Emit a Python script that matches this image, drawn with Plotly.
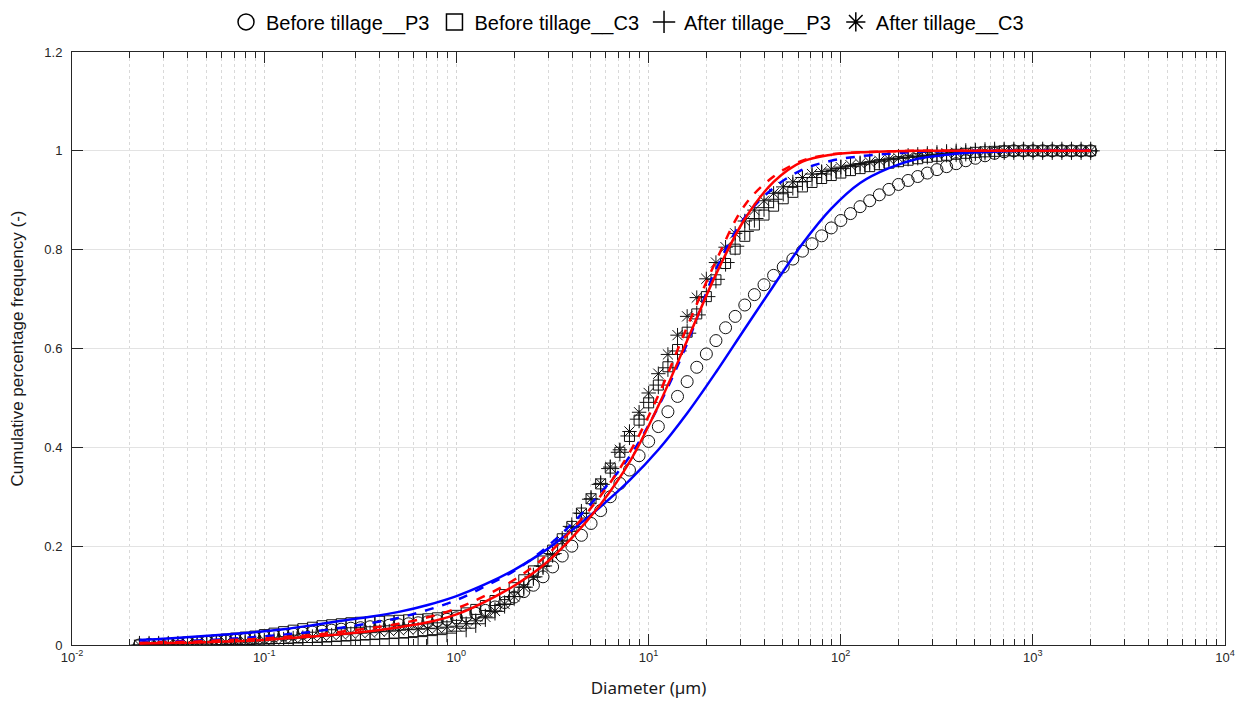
import plotly.graph_objects as go

# Particle diameters (µm) of the measured size classes
diameter = [
    0.02244, 0.02518, 0.02825, 0.03170, 0.03557, 0.03991, 0.04477, 0.05024, 0.05637, 0.06325,
    0.07096, 0.07962, 0.08934, 0.1002, 0.1125, 0.1262, 0.1416, 0.1589, 0.1783, 0.2000,
    0.2244, 0.2518, 0.2825, 0.3170, 0.3557, 0.3991, 0.4477, 0.5024, 0.5637, 0.6325,
    0.7096, 0.7962, 0.8934, 1.002, 1.125, 1.262, 1.416, 1.589, 1.783, 2.000,
    2.244, 2.518, 2.825, 3.170, 3.557, 3.991, 4.477, 5.024, 5.637, 6.325,
    7.096, 7.962, 8.934, 10.02, 11.25, 12.62, 14.16, 15.89, 17.83, 20.00,
    22.44, 25.18, 28.25, 31.70, 35.57, 39.91, 44.77, 50.24, 56.37, 63.25,
    70.96, 79.62, 89.34, 100.2, 112.5, 126.2, 141.6, 158.9, 178.3, 200.0,
    224.4, 251.8, 282.5, 317.0, 355.7, 399.1, 447.7, 502.4, 563.7, 632.5,
    709.6, 796.2, 893.4, 1002, 1125, 1262, 1416, 1589, 1783, 2000,
]

before_P3 = [
    0.000, 0.001, 0.001, 0.002, 0.003, 0.004, 0.005, 0.006, 0.007, 0.008,
    0.010, 0.012, 0.014, 0.016, 0.018, 0.020, 0.022, 0.024, 0.026, 0.028,
    0.030, 0.032, 0.034, 0.035, 0.037, 0.038, 0.040, 0.041, 0.043, 0.045,
    0.047, 0.049, 0.052, 0.055, 0.059, 0.064, 0.070, 0.077, 0.086, 0.097,
    0.108, 0.121, 0.138, 0.158, 0.180, 0.200, 0.222, 0.246, 0.272, 0.300,
    0.327, 0.354, 0.383, 0.412, 0.442, 0.472, 0.503, 0.533, 0.562, 0.589,
    0.616, 0.642, 0.665, 0.688, 0.709, 0.729, 0.748, 0.765, 0.781, 0.797,
    0.812, 0.828, 0.844, 0.859, 0.873, 0.887, 0.899, 0.911, 0.922, 0.932,
    0.940, 0.948, 0.955, 0.962, 0.968, 0.974, 0.980, 0.985, 0.990, 0.995,
    0.998, 1.000, 1.000, 1.000, 1.000, 1.000, 1.000, 1.000, 1.000, 1.000,
]

before_C3 = [
    0.000, 0.001, 0.002, 0.003, 0.004, 0.006, 0.007, 0.009, 0.010, 0.012,
    0.014, 0.016, 0.018, 0.021, 0.024, 0.027, 0.030, 0.033, 0.036, 0.039,
    0.041, 0.043, 0.045, 0.046, 0.047, 0.048, 0.049, 0.050, 0.051, 0.052,
    0.053, 0.055, 0.057, 0.060, 0.065, 0.072, 0.080, 0.090, 0.102, 0.116,
    0.132, 0.150, 0.170, 0.192, 0.215, 0.240, 0.267, 0.296, 0.326, 0.358,
    0.390, 0.422, 0.455, 0.490, 0.526, 0.563, 0.598, 0.633, 0.670, 0.705,
    0.739, 0.772, 0.801, 0.827, 0.850, 0.870, 0.888, 0.903, 0.916, 0.927,
    0.936, 0.944, 0.950, 0.955, 0.960, 0.964, 0.968, 0.972, 0.975, 0.978,
    0.981, 0.984, 0.987, 0.989, 0.991, 0.993, 0.995, 0.997, 0.998, 0.999,
    1.000, 1.000, 1.000, 1.000, 1.000, 1.000, 1.000, 1.000, 1.000, 1.000,
]

after_P3 = [
    0.000, 0.000, 0.000, 0.000, 0.000, 0.000, 0.000, 0.000, 0.000, 0.001,
    0.001, 0.001, 0.002, 0.002, 0.003, 0.003, 0.004, 0.005, 0.005, 0.006,
    0.007, 0.008, 0.009, 0.010, 0.011, 0.012, 0.013, 0.014, 0.015, 0.017,
    0.019, 0.021, 0.024, 0.028, 0.034, 0.043, 0.055, 0.068, 0.082, 0.098,
    0.117, 0.138, 0.160, 0.185, 0.212, 0.240, 0.267, 0.295, 0.325, 0.357,
    0.390, 0.423, 0.457, 0.491, 0.526, 0.561, 0.595, 0.631, 0.668, 0.705,
    0.740, 0.774, 0.807, 0.837, 0.863, 0.885, 0.902, 0.916, 0.928, 0.938,
    0.946, 0.953, 0.959, 0.964, 0.968, 0.972, 0.976, 0.979, 0.982, 0.985,
    0.987, 0.989, 0.991, 0.993, 0.995, 0.996, 0.997, 0.998, 0.999, 1.000,
    1.000, 1.000, 1.000, 1.000, 1.000, 1.000, 1.000, 1.000, 1.000, 1.000,
]

after_C3 = [
    0.000, 0.001, 0.001, 0.002, 0.002, 0.003, 0.004, 0.004, 0.005, 0.006,
    0.007, 0.008, 0.009, 0.010, 0.011, 0.012, 0.014, 0.015, 0.017, 0.018,
    0.020, 0.021, 0.023, 0.024, 0.025, 0.027, 0.028, 0.030, 0.031, 0.032,
    0.033, 0.034, 0.036, 0.038, 0.043, 0.049, 0.057, 0.069, 0.083, 0.098,
    0.117, 0.137, 0.159, 0.183, 0.210, 0.238, 0.266, 0.296, 0.327, 0.360,
    0.395, 0.432, 0.471, 0.510, 0.549, 0.588, 0.627, 0.665, 0.703, 0.741,
    0.774, 0.805, 0.833, 0.858, 0.880, 0.899, 0.914, 0.927, 0.937, 0.946,
    0.953, 0.958, 0.963, 0.967, 0.971, 0.974, 0.977, 0.980, 0.983, 0.985,
    0.987, 0.989, 0.991, 0.993, 0.995, 0.996, 0.997, 0.998, 0.999, 1.000,
    1.000, 1.000, 1.000, 1.000, 1.000, 1.000, 1.000, 1.000, 1.000, 1.000,
]

fit_d = [
    0.02244, 0.03170, 0.04477, 0.06325, 0.08934, 0.1262, 0.1783, 0.2518, 0.3557, 0.5024,
    0.7096, 1.002, 1.416, 2.000, 2.825, 3.991, 5.637, 7.962, 11.25, 15.89,
    22.44, 31.70, 44.77, 63.25, 89.34, 126.2, 178.3, 251.8, 355.7, 502.4,
    709.6, 1002, 1416, 2000,
]
fit_blue_solid = [
    0.010, 0.013, 0.017, 0.021, 0.026, 0.032, 0.040, 0.049, 0.057, 0.067,
    0.081, 0.099, 0.123, 0.152, 0.188, 0.232, 0.280, 0.333, 0.395, 0.469,
    0.552, 0.640, 0.727, 0.812, 0.883, 0.935, 0.965, 0.984, 0.992, 0.997,
    0.999, 1.000, 1.000, 1.000,
]
fit_blue_dash = [
    0.005, 0.007, 0.009, 0.012, 0.016, 0.021, 0.027, 0.035, 0.044, 0.055,
    0.071, 0.091, 0.119, 0.150, 0.192, 0.245, 0.308, 0.381, 0.482, 0.610,
    0.760, 0.865, 0.925, 0.962, 0.980, 0.989, 0.994, 0.998, 0.999, 1.000,
    1.000, 1.000, 1.000, 1.000,
]
fit_red_solid = [
    0.003, 0.004, 0.005, 0.007, 0.009, 0.013, 0.017, 0.022, 0.028, 0.036,
    0.046, 0.062, 0.088, 0.120, 0.161, 0.217, 0.285, 0.370, 0.484, 0.616,
    0.750, 0.862, 0.937, 0.978, 0.992, 0.997, 0.999, 1.000, 1.000, 1.000,
    1.000, 1.000, 1.000, 1.000,
]
fit_red_dash = [
    0.004, 0.006, 0.007, 0.010, 0.012, 0.016, 0.020, 0.027, 0.034, 0.043,
    0.056, 0.074, 0.100, 0.132, 0.175, 0.233, 0.302, 0.389, 0.505, 0.644,
    0.777, 0.890, 0.948, 0.980, 0.993, 0.997, 0.999, 1.000, 1.000, 1.000,
    1.000, 1.000, 1.000, 1.000,
]

x_tickvals = [0.01, 0.1, 1, 10, 100, 1000, 10000]
x_ticktext = ["10<sup>-2</sup>", "10<sup>-1</sup>", "10<sup>0</sup>", "10<sup>1</sup>",
              "10<sup>2</sup>", "10<sup>3</sup>", "10<sup>4</sup>"]
y_tickvals = [0, 0.2, 0.4, 0.6, 0.8, 1.0, 1.2]
y_ticktext = ["0", "0.2", "0.4", "0.6", "0.8", "1", "1.2"]

series = [
    ("Before tillage__P3", before_P3, "circle-open", 12),
    ("Before tillage__C3", before_C3, "square-open", 10),
    ("After tillage__P3", after_P3, "cross-thin-open", 13),
    ("After tillage__C3", after_C3, "asterisk-open", 12),
]

fits = [
    (fit_blue_solid, "#0000ff", "solid"),
    (fit_blue_dash, "#0000ff", "dash"),
    (fit_red_solid, "#ff0000", "solid"),
    (fit_red_dash, "#ff0000", "dash"),
]

fig = go.Figure()

for name, vals, sym, size in series:
    fig.add_trace(go.Scatter(
        x=diameter, y=vals, mode="markers", name=name, showlegend=False,
        marker=dict(symbol=sym, size=size, color="#111111",
                    line=dict(color="#111111", width=1)),
    ))

for vals, color, dash in fits:
    fig.add_trace(go.Scatter(
        x=fit_d, y=vals, mode="lines", showlegend=False,
        line=dict(color=color, width=2.5, dash=dash, shape="spline", smoothing=1.0),
    ))

# legend entries (bigger symbols, as in the reference)
for name, vals, sym, size in series:
    fig.add_trace(go.Scatter(
        x=[None], y=[None], mode="markers", name=name,
        marker=dict(symbol=sym, size=16, color="#000000",
                    line=dict(color="#000000", width=1.5)),
    ))

minor_vals = []
for e in range(-2, 4):
    for m in range(2, 10):
        minor_vals.append(m * 10 ** e)

axis_color = "#262626"
# the page body has an 8 px margin, so the figure is 8 px smaller each way
fig.update_layout(
    width=1238, height=694,
    margin=dict(l=64, r=21, t=44, b=57, autoexpand=False),
    paper_bgcolor="white", plot_bgcolor="white",
    font=dict(family="Liberation Sans, Arial, sans-serif", color=axis_color),
    legend=dict(orientation="h", x=0.4818, xanchor="center",
                yref="container", y=0.98, yanchor="middle",
                font=dict(size=20, color="#000000"), itemwidth=30, bgcolor="rgba(0,0,0,0)"),
    xaxis=dict(
        type="log", range=[-2, 4], automargin=False,
        tickmode="array", tickvals=x_tickvals, ticktext=x_ticktext,
        ticks="inside", ticklen=11, tickwidth=1, tickcolor=axis_color,
        showline=True, linecolor=axis_color, linewidth=1, mirror="allticks",
        showgrid=True, gridcolor="#d4d4d4", griddash="dot", gridwidth=1,
        tickfont=dict(size=13, color=axis_color),
        minor=dict(tickmode="array", tickvals=minor_vals, ticks="inside", ticklen=6,
                   tickcolor=axis_color, showgrid=True, gridcolor="#d9d9d9",
                   griddash="dot", gridwidth=1),
        title=dict(text="Diameter (µm)", font=dict(family="Noto Sans, Open Sans, sans-serif", size=17, color="#1a1a1a"), standoff=18),
        zeroline=False,
    ),
    yaxis=dict(
        range=[0, 1.2], automargin=False,
        tickmode="array", tickvals=y_tickvals, ticktext=y_ticktext,
        ticks="inside", ticklen=11, tickwidth=1, tickcolor=axis_color,
        showline=True, linecolor=axis_color, linewidth=1, mirror="allticks",
        showgrid=True, gridcolor="#e3e3e3", gridwidth=1,
        tickfont=dict(size=13, color=axis_color), ticklabelstandoff=6,
        title=dict(text="Cumulative percentage frequency (-)", font=dict(size=17, color="#1a1a1a"), standoff=19),
        zeroline=False,
    ),
)

fig.write_html("out.html")
